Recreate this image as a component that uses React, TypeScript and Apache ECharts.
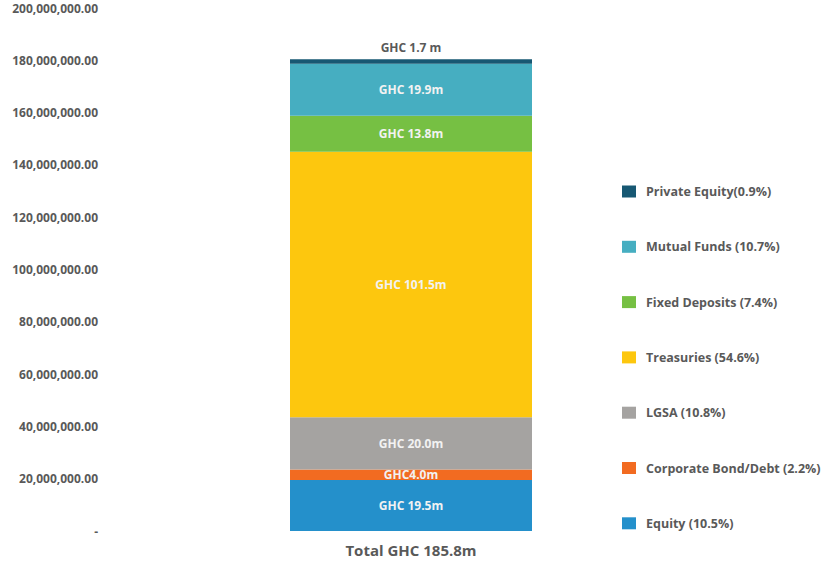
import React, { useEffect, useRef } from "react";
import * as echarts from "echarts";

const categories = ["Total GHC 185.8m"];
const seriesNames = [
  "Equity (10.5%)",
  "Corporate Bond/Debt (2.2%)",
  "LGSA (10.8%)",
  "Treasuries (54.6%)",
  "Fixed Deposits (7.4%)",
  "Mutual Funds (10.7%)",
  "Private Equity(0.9%)",
];
const seriesValues = [19500000, 4000000, 20000000, 101500000, 13800000, 19900000, 1700000];
const barLabels = ["GHC 19.5m", "GHC4.0m", "GHC 20.0m", "GHC 101.5m", "GHC 13.8m", "GHC 19.9m", "GHC 1.7 m"];
const colors = ["#2490CB", "#F26B21", "#A5A3A1", "#FDC70E", "#76C043", "#46AEC1", "#175873"];
const yMin = 0;
const yMax = 200000000;
const yInterval = 20000000;

const FONT = "'Open Sans', Roboto, sans-serif";

export default function App() {
  const ref = useRef<HTMLDivElement>(null);
  useEffect(() => {
    if (!ref.current) return;
    const chart = echarts.init(ref.current, null, { renderer: "svg" });
    const series = seriesNames.map((name, i) => ({
      name,
      type: "bar",
      stack: "total",
      barWidth: 242,
      data: [seriesValues[i]],
      itemStyle: { color: colors[i] },
      label: {
        show: true,
        position: i === seriesNames.length - 1 ? "top" : "inside",
        formatter: () => barLabels[i],
        color: i === seriesNames.length - 1 ? "#595959" : "#F2F2F2",
        fontWeight: "bold",
        fontSize: 12,
        fontFamily: FONT,
        distance: 6,
      },
    }));
    chart.setOption({
      animation: false,
      grid: { left: 105, right: 105, top: 8, bottom: 30, containLabel: false },
      xAxis: {
        type: "category",
        data: categories,
        axisLine: { show: false },
        axisTick: { show: false },
        axisLabel: {
          color: "#595959",
          fontWeight: "bold",
          fontSize: 15,
          fontFamily: FONT,
          margin: 11,
        },
      },
      yAxis: {
        type: "value",
        min: yMin,
        max: yMax,
        interval: yInterval,
        splitLine: { show: false },
        axisLine: { show: false },
        axisTick: { show: false },
        axisLabel: {
          color: "#595959",
          fontWeight: "bold",
          fontSize: 12,
          fontFamily: FONT,
          margin: 7,
          formatter: (v: number) =>
            v === 0
              ? "-"
              : v.toLocaleString("en-US", { minimumFractionDigits: 2, maximumFractionDigits: 2 }),
        },
      },
      legend: {
        orient: "vertical",
        left: 617,
        top: 180,
        icon: "rect",
        itemWidth: 14,
        itemHeight: 12,
        itemGap: 42.3,
        data: [...seriesNames].reverse(),
        textStyle: {
          color: "#595959",
          fontWeight: "bold",
          fontSize: 12.5,
          fontFamily: FONT,
          padding: [0, 0, 0, 5],
        },
      },
      series,
    });
    return () => chart.dispose();
  }, []);
  return (
    <div
      ref={ref}
      style={{ position: "fixed", left: 0, top: 0, width: 822, height: 561, background: "#fff" }}
    />
  );
}
